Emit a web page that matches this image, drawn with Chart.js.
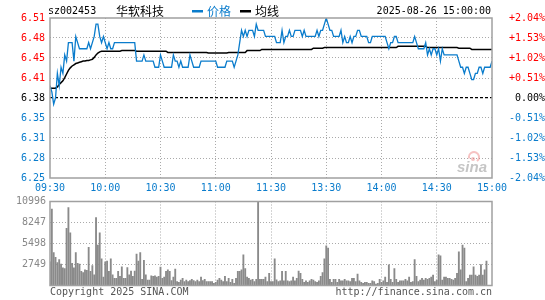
<!DOCTYPE html>
<html>
<head>
<meta charset="utf-8">
<script src="https://cdn.jsdelivr.net/npm/chart.js"></script>
<style>
  html, body { margin: 0; padding: 0; background: #fff; }
  #wrap { position: relative; width: 545px; height: 300px; }
  #wrap canvas { position: absolute; left: 0; }
</style>
</head>
<body>
<div id="wrap">
  <canvas id="priceChart" width="545" height="200" style="top:0"></canvas>
  <canvas id="volChart" width="545" height="110" style="top:190px"></canvas>
</div>
<script>
const stockCode = 'sz002453';
const stockName = '华软科技';
const dateText = '2025-08-26 15:00:00';

// minute index 0..240 (09:30-11:30, 13:01-15:00)
const timeTicks = [0, 30, 60, 90, 120, 150, 180, 210, 240];
const timeLabels = ['09:30', '10:00', '10:30', '11:00', '11:30', '13:30', '14:00', '14:30', '15:00'];

const priceTicks = [6.25, 6.2825, 6.315, 6.3475, 6.38, 6.4125, 6.445, 6.4775, 6.51];
const priceLabels = ['6.25', '6.28', '6.31', '6.35', '6.38', '6.41', '6.45', '6.48', '6.51'];
const pctLabels = ['-2.04%', '-1.53%', '-1.02%', '-0.51%', '0.00%', '+0.51%', '+1.02%', '+1.53%', '+2.04%'];

const volTicks = [0, 2749, 5498, 8247, 10996];
const volLabels = ['', '2749', '5498', '8247', '10996'];

const prices = [
  6.40, 6.39, 6.37, 6.38, 6.42, 6.40, 6.43, 6.42, 6.45, 6.44,
  6.47, 6.47, 6.47, 6.44, 6.48, 6.47, 6.46, 6.46, 6.46, 6.46,
  6.46, 6.47, 6.46, 6.47, 6.48, 6.50, 6.50, 6.48, 6.47, 6.48,
  6.47, 6.46, 6.47, 6.46, 6.46, 6.47, 6.47, 6.47, 6.47, 6.47,
  6.47, 6.47, 6.47, 6.47, 6.47, 6.47, 6.47, 6.44, 6.44, 6.44,
  6.44, 6.45, 6.44, 6.44, 6.44, 6.44, 6.44, 6.43, 6.43, 6.43,
  6.45, 6.44, 6.43, 6.43, 6.43, 6.43, 6.43, 6.45, 6.44, 6.44,
  6.43, 6.44, 6.43, 6.43, 6.43, 6.43, 6.45, 6.44, 6.43, 6.43,
  6.43, 6.43, 6.44, 6.44, 6.44, 6.44, 6.44, 6.44, 6.44, 6.44,
  6.44, 6.43, 6.43, 6.43, 6.43, 6.43, 6.44, 6.44, 6.44, 6.44,
  6.43, 6.44, 6.45, 6.47, 6.49, 6.48, 6.49, 6.48, 6.49, 6.49,
  6.49, 6.48, 6.50, 6.49, 6.49, 6.49, 6.49, 6.48, 6.48, 6.48,
  6.48,
  6.48, 6.48, 6.47, 6.47, 6.47, 6.49, 6.47, 6.48, 6.48, 6.49,
  6.48, 6.48, 6.49, 6.49, 6.49, 6.49, 6.48, 6.49, 6.48, 6.48,
  6.48, 6.48, 6.48, 6.48, 6.49, 6.48, 6.49, 6.49, 6.50, 6.51,
  6.50, 6.49, 6.49, 6.48, 6.48, 6.48, 6.48, 6.49, 6.47, 6.48,
  6.47, 6.47, 6.48, 6.47, 6.48, 6.48, 6.49, 6.49, 6.48, 6.48,
  6.48, 6.48, 6.47, 6.47, 6.48, 6.48, 6.48, 6.48, 6.48, 6.48,
  6.48, 6.48, 6.47, 6.46, 6.47, 6.47, 6.48, 6.48, 6.47, 6.47,
  6.47, 6.47, 6.47, 6.47, 6.47, 6.47, 6.47, 6.48, 6.47, 6.46,
  6.46, 6.46, 6.46, 6.47, 6.45, 6.46, 6.45, 6.46, 6.46, 6.45,
  6.46, 6.44, 6.46, 6.45, 6.45, 6.45, 6.45, 6.45, 6.45, 6.45,
  6.45, 6.44, 6.43, 6.43, 6.42, 6.43, 6.43, 6.42, 6.41, 6.41,
  6.42, 6.42, 6.43, 6.43, 6.42, 6.43, 6.43, 6.43, 6.43, 6.44
];

const avgPrices = [
  6.396, 6.396, 6.396, 6.396, 6.398, 6.402, 6.405, 6.408, 6.413, 6.419,
  6.425, 6.429, 6.432, 6.434, 6.436, 6.437, 6.438, 6.439, 6.440, 6.440,
  6.441, 6.441, 6.442, 6.443, 6.446, 6.450, 6.453, 6.455, 6.456, 6.456,
  6.456, 6.456, 6.456, 6.456, 6.456, 6.456, 6.456, 6.456, 6.456, 6.457,
  6.457, 6.457, 6.457, 6.457, 6.457, 6.457, 6.457, 6.456, 6.456, 6.456,
  6.456, 6.456, 6.456, 6.456, 6.456, 6.456, 6.456, 6.456, 6.456, 6.456,
  6.456, 6.456, 6.456, 6.456, 6.454, 6.454, 6.454, 6.454, 6.454, 6.454,
  6.454, 6.454, 6.454, 6.454, 6.454, 6.454, 6.454, 6.454, 6.454, 6.454,
  6.454, 6.454, 6.454, 6.454, 6.454, 6.454, 6.453, 6.453, 6.453, 6.453,
  6.453, 6.453, 6.453, 6.453, 6.453, 6.453, 6.453, 6.454, 6.454, 6.454,
  6.454, 6.454, 6.454, 6.454, 6.454, 6.454, 6.454, 6.457, 6.457, 6.457,
  6.457, 6.457, 6.457, 6.457, 6.457, 6.459, 6.459, 6.459, 6.459, 6.459,
  6.459,
  6.459, 6.459, 6.459, 6.459, 6.459, 6.459, 6.459, 6.459, 6.459, 6.459,
  6.459, 6.459, 6.459, 6.459, 6.459, 6.459, 6.459, 6.459, 6.459, 6.459,
  6.459, 6.459, 6.461, 6.461, 6.461, 6.461, 6.461, 6.461, 6.462, 6.462,
  6.462, 6.462, 6.462, 6.462, 6.462, 6.462, 6.462, 6.462, 6.462, 6.462,
  6.462, 6.462, 6.462, 6.462, 6.462, 6.462, 6.462, 6.462, 6.462, 6.462,
  6.462, 6.462, 6.462, 6.462, 6.462, 6.462, 6.462, 6.462, 6.462, 6.462,
  6.462, 6.462, 6.462, 6.462, 6.462, 6.462, 6.462, 6.462, 6.464, 6.464,
  6.464, 6.464, 6.464, 6.464, 6.464, 6.464, 6.464, 6.464, 6.464, 6.464,
  6.464, 6.464, 6.464, 6.464, 6.462, 6.462, 6.462, 6.462, 6.462, 6.462,
  6.462, 6.462, 6.462, 6.462, 6.462, 6.462, 6.462, 6.462, 6.462, 6.462,
  6.462, 6.461, 6.461, 6.461, 6.461, 6.461, 6.461, 6.461, 6.459, 6.459,
  6.459, 6.459, 6.459, 6.459, 6.459, 6.459, 6.459, 6.459, 6.459, 6.459
];

const volumes = [
  3100, 10000, 4300, 3700, 3000, 3400, 2800, 2300, 2200, 7500,
  10200, 6900, 2900, 2300, 4300, 2900, 2800, 1850, 1700, 2050,
  2000, 5000, 1850, 2600, 1400, 8900, 5300, 6900, 3500, 1100,
  3100, 3200, 1850, 3500, 1400, 950, 950, 1850, 1200, 2450,
  950, 950, 2350, 1400, 1900, 1200, 1900, 4100, 3200, 4300,
  800, 3300, 1400, 700, 700, 1250, 1200, 1250, 1100, 1200,
  2400, 950, 1100, 1850, 2050, 1850, 650, 1100, 2150, 500,
  400, 700, 950, 500, 700, 500, 650, 800, 650, 500,
  700, 500, 1100, 650, 800, 500, 500, 500, 500, 300,
  400, 700, 950, 700, 500, 1200, 500, 950, 400, 800,
  300, 950, 1850, 1850, 2050, 4000, 2200, 1100, 950, 700,
  800, 500, 800, 10996, 800, 800, 800, 1100, 500, 1600,
  500,
  500, 3500, 750, 500, 600, 1850, 600, 1850, 600, 500,
  600, 1100, 600, 950, 1900, 1600, 800, 400, 600, 400,
  600, 800, 700, 500, 400, 600, 1200, 1700, 3500, 5200,
  4900, 800, 400, 800, 800, 400, 800, 600, 600, 800,
  600, 600, 500, 950, 950, 500, 1500, 600, 400, 300,
  400, 400, 300, 300, 600, 500, 200, 300, 800, 400,
  600, 1100, 400, 2700, 800, 400, 2200, 800, 400, 600,
  600, 600, 800, 600, 1100, 400, 500, 3400, 1200, 500,
  700, 950, 700, 950, 800, 950, 1100, 1350, 500, 700,
  4000, 3900, 700, 1100, 1100, 950, 950, 800, 700, 950,
  1600, 4400, 2050, 5300, 4900, 500, 950, 1350, 1350, 2450,
  1350, 1200, 1350, 2750, 1350, 2050, 3200, 0, 0, 0
];

const BLUE = '#0a7ccc';
const RED = '#ff0000';
const GRID = '#aaaaaa';
const FRAME = '#a0a0a0';
const MONO = '10px "DejaVu Sans Mono"';
const monoFont = { family: '"DejaVu Sans Mono"', size: 10 };

const labelColor = (ctx) => ctx.index > 4 ? RED : (ctx.index === 4 ? '#000' : BLUE);

const framePlugin = {
  id: 'frame',
  afterDatasetsDraw(chart) {
    const a = chart.chartArea;
    const ctx = chart.ctx;
    ctx.save();
    ctx.strokeStyle = FRAME;
    ctx.lineWidth = 1.5;
    ctx.strokeRect(a.left, a.top, a.right - a.left, a.bottom - a.top);
    ctx.restore();
  }
};

const headerPlugin = {
  id: 'header',
  beforeDatasetsDraw(chart) {
    // sina watermark
    const ctx = chart.ctx;
    ctx.save();
    ctx.strokeStyle = 'rgba(235,120,120,0.45)';
    ctx.lineWidth = 2;
    ctx.beginPath();
    ctx.arc(474, 157, 5, Math.PI * 0.9, Math.PI * 2.3);
    ctx.stroke();
    ctx.fillStyle = 'rgba(235,120,120,0.45)';
    ctx.beginPath();
    ctx.arc(473, 159, 2, 0, Math.PI * 2);
    ctx.fill();
    ctx.fillStyle = 'rgba(150,150,150,0.55)';
    ctx.font = 'italic bold 15px "Liberation Sans"';
    ctx.textBaseline = 'alphabetic';
    ctx.textAlign = 'left';
    ctx.fillText('sina', 457, 172);
    ctx.restore();
  },
  afterDraw(chart) {
    const ctx = chart.ctx;
    ctx.save();
    ctx.textBaseline = 'middle';
    ctx.textAlign = 'left';
    ctx.fillStyle = '#000';
    ctx.font = MONO;
    ctx.fillText(stockCode, 48, 11);
    ctx.font = '12px "Noto Sans CJK SC"';
    ctx.fillText(stockName, 116, 11);
    ctx.fillStyle = BLUE;
    ctx.fillRect(192, 10, 11, 2.5);
    ctx.fillText('价格', 207, 11);
    ctx.fillStyle = '#000';
    ctx.fillRect(240, 10, 11, 2.5);
    ctx.fillText('均线', 255, 11);
    ctx.font = MONO;
    ctx.textAlign = 'right';
    ctx.fillText(dateText, 491, 11);
    ctx.restore();
  }
};

const footerPlugin = {
  id: 'footer',
  afterDraw(chart) {
    const ctx = chart.ctx;
    ctx.save();
    ctx.font = MONO;
    ctx.fillStyle = '#555';
    ctx.textBaseline = 'middle';
    ctx.textAlign = 'left';
    ctx.fillText('Copyright 2025 SINA.COM', 50, 102);
    ctx.textAlign = 'right';
    ctx.fillText('http://finance.sina.com.cn', 492, 102);
    ctx.restore();
  }
};

new Chart(document.getElementById('priceChart'), {
  type: 'line',
  data: {
    datasets: [
      {
        data: prices.map((p, i) => ({ x: i, y: p })),
        borderColor: BLUE,
        borderWidth: 1.3,
        pointRadius: 0,
        tension: 0
      },
      {
        data: avgPrices.map((p, i) => ({ x: i, y: p })),
        borderColor: '#000',
        borderWidth: 1.5,
        pointRadius: 0,
        tension: 0
      }
    ]
  },
  options: {
    responsive: false,
    animation: false,
    events: [],
    layout: { padding: { top: 18, left: 0, right: 0, bottom: 0 } },
    plugins: { legend: { display: false }, tooltip: { enabled: false } },
    scales: {
      x: {
        type: 'linear',
        min: 0,
        max: 240,
        afterBuildTicks: (s) => { s.ticks = timeTicks.map(v => ({ value: v })); },
        afterFit: (s) => { s.height = 22; },
        ticks: {
          autoSkip: false,
          maxRotation: 0,
          padding: 4,
          color: BLUE,
          font: monoFont,
          callback: (v, i) => timeLabels[i]
        },
        grid: {
          drawTicks: false,
          color: (ctx) => (ctx.index === 0 || ctx.index === 8) ? 'transparent' : GRID,
          lineWidth: 1
        },
        border: { display: false, dash: [1, 2] }
      },
      y: {
        position: 'left',
        min: 6.25,
        max: 6.51,
        afterBuildTicks: (s) => { s.ticks = priceTicks.map(v => ({ value: v })); },
        afterFit: (s) => { s.width = 50; },
        ticks: {
          padding: 5,
          color: labelColor,
          font: monoFont,
          callback: (v, i) => priceLabels[i]
        },
        grid: {
          drawTicks: false,
          color: (ctx) => (ctx.index === 0 || ctx.index === 8) ? 'transparent' : (ctx.index === 4 ? '#000' : GRID),
          lineWidth: (ctx) => ctx.index === 4 ? 1.3 : 1
        },
        border: { display: false, dash: (ctx) => ctx.index === 4 ? [3, 2] : [1, 2] }
      },
      y2: {
        position: 'right',
        min: 6.25,
        max: 6.51,
        afterBuildTicks: (s) => { s.ticks = priceTicks.map(v => ({ value: v })); },
        afterFit: (s) => { s.width = 53; },
        ticks: {
          padding: 3,
          crossAlign: 'far',
          color: labelColor,
          font: monoFont,
          callback: (v, i) => pctLabels[i]
        },
        grid: { display: false, drawTicks: false },
        border: { display: false }
      }
    }
  },
  plugins: [headerPlugin, framePlugin]
});

new Chart(document.getElementById('volChart'), {
  type: 'bar',
  data: {
    datasets: [{
      data: volumes.map((v, i) => ({ x: i, y: v })),
      backgroundColor: '#8a8a8a',
      barThickness: 1.2
    }]
  },
  options: {
    responsive: false,
    animation: false,
    events: [],
    layout: { padding: { top: 11.5, left: 0, right: 53, bottom: 14.5 } },
    plugins: { legend: { display: false }, tooltip: { enabled: false } },
    scales: {
      x: {
        type: 'linear',
        min: 0,
        max: 240,
        offset: false,
        afterBuildTicks: (s) => { s.ticks = timeTicks.map(v => ({ value: v })); },
        afterFit: (s) => { s.height = 0; },
        ticks: { display: false },
        grid: {
          drawTicks: false,
          offset: false,
          color: (ctx) => (ctx.index === 0 || ctx.index === 8) ? 'transparent' : GRID
        },
        border: { display: false, dash: [1, 2] }
      },
      y: {
        min: 0,
        max: 10996,
        afterBuildTicks: (s) => { s.ticks = volTicks.map(v => ({ value: v })); },
        afterFit: (s) => { s.width = 50; },
        ticks: {
          padding: 4,
          color: '#888',
          font: monoFont,
          callback: (v, i) => volLabels[i]
        },
        grid: {
          drawTicks: false,
          color: (ctx) => (ctx.index === 0 || ctx.index === 4) ? 'transparent' : GRID
        },
        border: { display: false, dash: [1, 2] }
      }
    }
  },
  plugins: [framePlugin, footerPlugin]
});
</script>
</body>
</html>
